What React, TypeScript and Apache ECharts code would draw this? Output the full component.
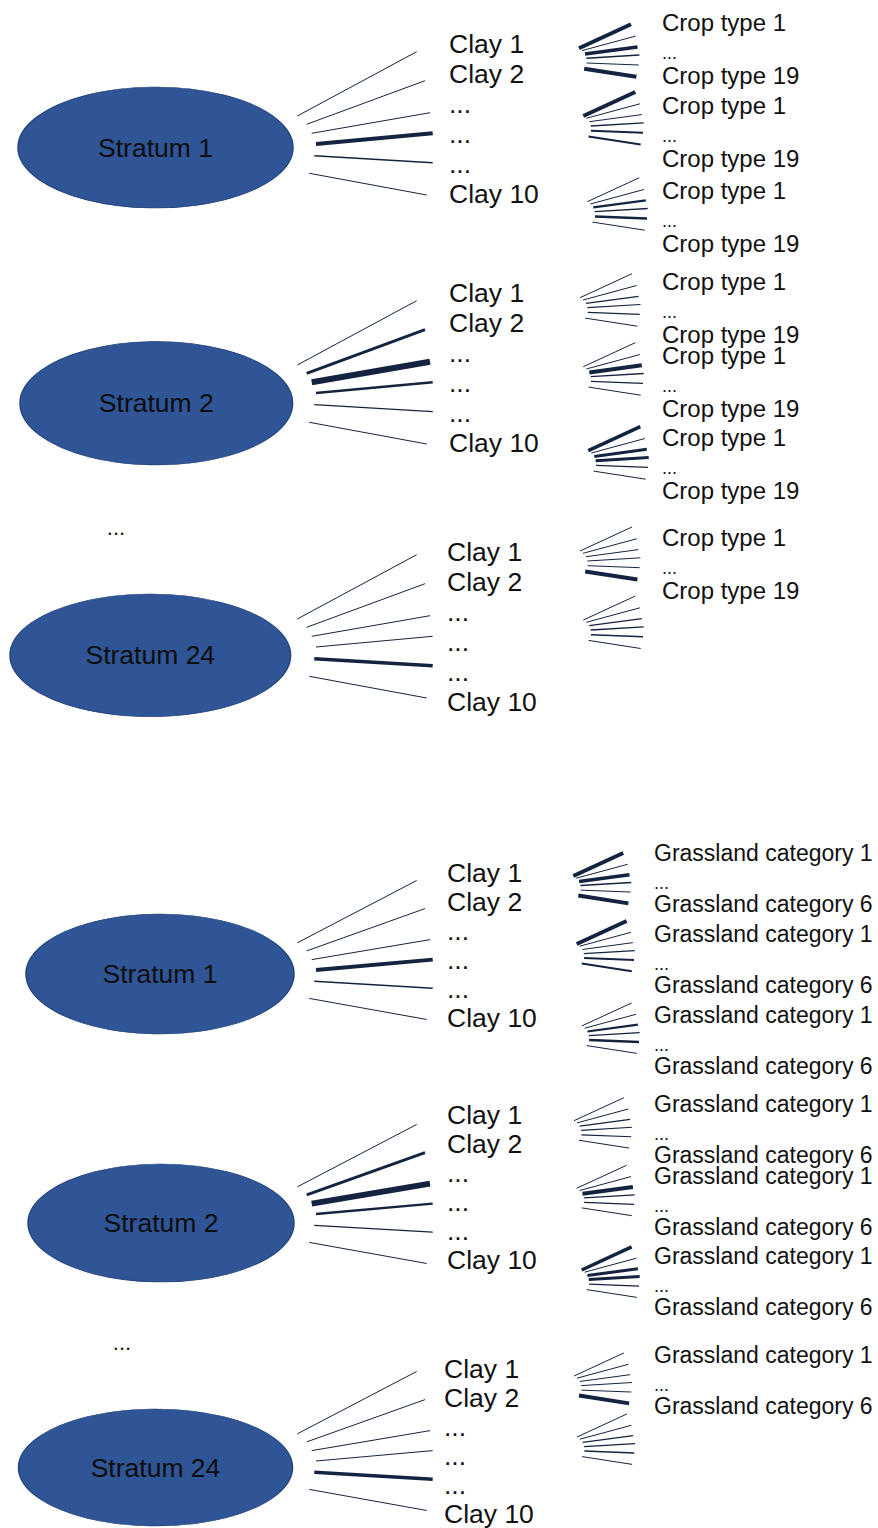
import React, { useEffect, useRef } from "react";
import * as echarts from "echarts";

const W = 878;
const H = 1528;

// ---- content ----
const strata = ["Stratum 1", "Stratum 2", "Stratum 24"];
const strataGap = "...";
const clayLabels = ["Clay 1", "Clay 2", "...", "...", "...", "Clay 10"];
const cropLabels = ["Crop type 1", "...", "Crop type 19"];
const grassLabels = ["Grassland category 1", "...", "Grassland category 6"];

// link weights: stratum -> clay classes (one row per stratum)
const clayWeights = [
  [1, 1, 1, 4, 1.5, 1],
  [1, 3, 6, 2.5, 1.2, 1],
  [1, 1, 1, 1, 3.5, 1],
];

// link weights: clay class -> land-use classes (one row per small fan)
const landWeights = [
  [4, 1, 3.5, 1.5, 1, 4],
  [4, 1, 1, 1.3, 2, 2],
  [1, 1, 2.2, 1.3, 2.5, 1],
  [1, 1, 1.2, 1.2, 1.2, 1],
  [1, 1, 4, 1.3, 1.2, 1],
  [3.5, 1, 3, 3, 1.3, 1],
  [1, 1, 1, 1, 1, 4],
  [1, 1, 1.3, 1.3, 1.5, 1],
];

// ---- layout (pixel geometry) ----
const clayFanStarts = [[297.3, 116], [306.7, 124.3], [311.7, 133.3], [316, 144], [314.3, 155.7], [309.3, 173.3]];
const clayFanEnds = [[416.7, 51.7], [425, 80.7], [430, 112.7], [432.7, 133.3], [432.7, 162.7], [426.7, 195]];
const clayFanPivot = 144;
const subFanStarts = [[0, 0], [3, 2.3], [6, 5.7], [7.4, 10], [7.7, 14.7], [5.2, 20.4]];
const subFanEnds = [[52, -24], [56.6, -12.2], [58.5, -1.4], [60.4, 6.8], [59.7, 16.7], [57.4, 28.5]];

const panels = [
  {
    ellipses: [[155.5, 147.5, 137.5, 60.5], [156.3, 403.3, 136.3, 61.7], [150.3, 655.3, 140.3, 61.3]],
    gapPos: [116, 527],
    fanOffsets: [0, 249, 503],
    fanScale: 1,
    clayX: [449, 449, 447],
    clayY: [44, 293, 552],
    clayStep: 30,
    subOrigins: [[579, 48.3], [583.3, 116], [587.3, 201.7], [580, 297.7], [583.3, 366.7], [588.3, 450.7], [580, 551], [583.3, 620]],
    subScale: 1,
    labelX: 662,
    labelY: [22, 105, 190, 281, 355, 437, 537],
    labelStep: 26.5,
    labelFont: 24,
    labels: cropLabels,
  },
  {
    ellipses: [[160, 974, 134, 60], [161, 1223, 133, 59], [155.5, 1467.5, 137, 58.5]],
    gapPos: [122, 1342],
    fanOffsets: [826, 1070, 1317],
    fanScale: 0.97,
    clayX: [447, 447, 444],
    clayY: [873, 1115, 1369],
    clayStep: 29,
    subOrigins: [[573.3, 876], [576.7, 944], [581.7, 1026], [574, 1120.7], [576.7, 1188.3], [581.7, 1270], [574, 1376], [577, 1437]],
    subScale: 0.96,
    labelX: 654,
    labelY: [853, 934, 1015, 1104, 1176, 1256, 1355],
    labelStep: 25.5,
    labelFont: 23,
    labels: grassLabels,
  },
];

const FONT = '"Liberation Sans", Arial, Helvetica, sans-serif';
const LINE_COLOR = "#142440";
const TEXT_COLOR = "#111111";

function buildOption() {
  const links: any[] = [];
  const ellipseData: any[] = [];
  const texts: any[] = [];

  panels.forEach((p) => {
    p.ellipses.forEach((e, i) => {
      ellipseData.push({
        name: strata[i],
        value: [e[0], e[1]],
        symbolSize: [e[2] * 2, e[3] * 2],
      });
    });
    texts.push({
      type: "text",
      x: p.gapPos[0],
      y: p.gapPos[1],
      style: {
        text: strataGap,
        font: `22px ${FONT}`,
        fill: TEXT_COLOR,
        align: "center",
        verticalAlign: "middle",
        textAlign: "center",
        textVerticalAlign: "middle",
      },
    });
    p.fanOffsets.forEach((off, si) => {
      const ty = (y: number) => clayFanPivot + (y - clayFanPivot) * p.fanScale + off;
      clayFanStarts.forEach((s, li) => {
        const e = clayFanEnds[li];
        links.push({
          coords: [[s[0], ty(s[1])], [e[0], ty(e[1])]],
          lineStyle: { width: clayWeights[si][li] },
        });
      });
      clayLabels.forEach((lab, k) => {
        texts.push({
          type: "text",
          x: p.clayX[si],
          y: p.clayY[si] + k * p.clayStep,
          style: {
            text: lab,
            font: `26.5px ${FONT}`,
            fill: TEXT_COLOR,
            align: "left",
            verticalAlign: "middle",
            textAlign: "left",
            textVerticalAlign: "middle",
          },
        });
      });
    });
    p.subOrigins.forEach((o, fi) => {
      subFanStarts.forEach((s, li) => {
        const e = subFanEnds[li];
        links.push({
          coords: [
            [o[0] + s[0] * p.subScale, o[1] + s[1] * p.subScale],
            [o[0] + e[0] * p.subScale, o[1] + e[1] * p.subScale],
          ],
          lineStyle: { width: landWeights[fi][li] },
        });
      });
    });
    p.labelY.forEach((y0) => {
      p.labels.forEach((lab, k) => {
        const isDots = lab === "...";
        texts.push({
          type: "text",
          x: p.labelX,
          y: y0 + k * p.labelStep + (isDots ? 4 : 0),
          style: {
            text: lab,
            font: `${isDots ? 18 : p.labelFont}px ${FONT}`,
            fill: TEXT_COLOR,
            align: "left",
            verticalAlign: "middle",
            textAlign: "left",
            textVerticalAlign: "middle",
          },
        });
      });
    });
  });

  return {
    animation: false,
    backgroundColor: "#ffffff",
    grid: { left: 0, right: 0, top: 0, bottom: 0, containLabel: false },
    xAxis: { type: "value", min: 0, max: W, show: false },
    yAxis: { type: "value", min: 0, max: H, inverse: true, show: false },
    series: [
      {
        type: "lines",
        coordinateSystem: "cartesian2d",
        polyline: false,
        silent: true,
        z: 2,
        lineStyle: { color: LINE_COLOR, opacity: 1, curveness: 0, cap: "butt" },
        data: links,
      },
      {
        type: "scatter",
        symbol: "circle",
        silent: true,
        z: 3,
        itemStyle: { color: "#2F5597", borderColor: "#24447a", borderWidth: 1, opacity: 1 },
        label: {
          show: true,
          position: "inside",
          formatter: "{b}",
          fontSize: 26.5,
          fontFamily: FONT,
          color: "#0d0d0d",
        },
        data: ellipseData,
      },
    ],
    graphic: texts,
  };
}

export default function App() {
  const ref = useRef<HTMLDivElement>(null);
  useEffect(() => {
    if (!ref.current) return;
    const chart = echarts.init(ref.current, undefined, { renderer: "svg" });
    chart.setOption(buildOption() as any);
    return () => chart.dispose();
  }, []);
  return (
    <div
      ref={ref}
      style={{ position: "absolute", left: 0, top: 0, width: W, height: H, background: "#fff" }}
    />
  );
}
